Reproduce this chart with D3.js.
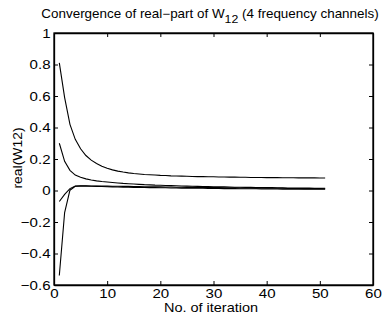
<!DOCTYPE html>
<html>
<head>
<meta charset="utf-8">
<script src="https://cdn.jsdelivr.net/npm/d3@7"></script>
<style>
  body { margin: 0; background: #fff; }
  svg text { font-family: "Liberation Sans", Arial, Helvetica, sans-serif; fill: #000; }
</style>
</head>
<body>
<svg id="chart" width="392" height="322"></svg>
<script>
// iterations 1..51
var iterations = d3.range(1, 52);

// real part of W12 for each of the 4 frequency channels
var channel1 = [0.81,0.59,0.42,0.325,0.265,0.222,0.193,0.171,0.154,0.141,0.131,0.123,0.117,0.112,0.108,0.105,0.102,0.100,0.098,0.096,
	0.095,0.093,0.092,0.091,0.090,0.089,0.088,0.088,0.087,0.087,0.086,0.086,0.085,0.085,0.084,0.084,0.083,0.083,0.083,0.082,
	0.082,0.082,0.081,0.081,0.081,0.080,0.080,0.080,0.080,0.079,0.079];
var channel2 = [0.30,0.185,0.128,0.098,0.084,0.074,0.067,0.061,0.057,0.054,0.051,0.048,0.045,0.043,0.041,0.039,0.037,0.036,0.034,0.033,
	0.032,0.031,0.030,0.029,0.028,0.027,0.026,0.025,0.025,0.024,0.023,0.023,0.022,0.021,0.021,0.020,0.020,0.019,0.019,0.018,
	0.018,0.017,0.017,0.016,0.016,0.015,0.015,0.015,0.014,0.014,0.014];
var channel3 = [-0.07,-0.025,0.012,0.028,0.030,0.030,0.029,0.029,0.028,0.028,0.027,0.027,0.026,0.026,0.025,0.025,0.024,0.024,0.023,0.023,
	0.022,0.022,0.021,0.021,0.020,0.020,0.019,0.019,0.019,0.018,0.018,0.017,0.017,0.017,0.016,0.016,0.016,0.015,0.015,0.015,
	0.014,0.014,0.014,0.013,0.013,0.013,0.012,0.012,0.012,0.012,0.011];
var channel4 = [-0.54,-0.14,0.002,0.027,0.029,0.028,0.027,0.026,0.025,0.024,0.023,0.022,0.021,0.021,0.020,0.019,0.019,0.018,0.018,0.017,
	0.017,0.016,0.016,0.015,0.015,0.014,0.014,0.014,0.013,0.013,0.013,0.012,0.012,0.012,0.011,0.011,0.011,0.011,0.010,0.010,
	0.010,0.010,0.009,0.009,0.009,0.009,0.009,0.008,0.008,0.008,0.008];

var xTicks = [0,10,20,30,40,50,60];
var yTicks = [-0.6,-0.4,-0.2,0,0.2,0.4,0.6,0.8,1];

var margin = {top: 33, right: 19, bottom: 37, left: 54};
var width = 392 - margin.left - margin.right;
var height = 322 - margin.top - margin.bottom;

//matlab export looks horizontally stretched
var stretch = 1.16;

var svg = d3.select("#chart");
var g = svg.append("g").attr("transform", "translate(" + margin.left + "," + margin.top + ")");

var x = d3.scaleLinear().domain([0, 60]).range([0, width]);
var y = d3.scaleLinear().domain([-0.6, 1]).range([height, 0]);

function fmt(d) { return d3.format("")(d).replace("-", "\u2212"); }

//axes, ticks pointing inwards
g.append("g").attr("transform", "translate(0," + height + ")")
	.call(d3.axisBottom(x).tickValues(xTicks).tickSizeInner(-4).tickSizeOuter(0).tickPadding(4).tickFormat(fmt));
g.append("g")
	.call(d3.axisTop(x).tickValues(xTicks).tickSizeInner(-4).tickSizeOuter(0).tickFormat(""));
g.append("g")
	.call(d3.axisLeft(y).tickValues(yTicks).tickSizeInner(-4).tickSizeOuter(0).tickPadding(3).tickFormat(fmt));
g.append("g").attr("transform", "translate(" + width + ",0)")
	.call(d3.axisRight(y).tickValues(yTicks).tickSizeInner(-4).tickSizeOuter(0).tickFormat(""));

g.selectAll(".domain").attr("stroke", "#000").attr("stroke-width", 1.3);
g.selectAll(".tick line").attr("stroke", "#000");
g.selectAll(".tick text").attr("font-size", "13px").attr("font-family", null)
	.attr("transform", "scale(" + stretch + ",1)");

//box
g.append("rect").attr("width", width).attr("height", height)
	.attr("fill", "none").attr("stroke", "#000").attr("stroke-width", 1.3);

//curves
var line = d3.line()
	.x(function(d, i) { return x(iterations[i]); })
	.y(function(d) { return y(d); });

[channel1, channel2, channel3, channel4].forEach(function(ch) {
	g.append("path").datum(ch)
		.attr("fill", "none").attr("stroke", "#000").attr("stroke-width", 1.1)
		.attr("d", line);
});

//labels
var title = svg.append("text")
	.attr("transform", "translate(210,18) scale(1.12,1)")
	.attr("text-anchor", "middle").attr("font-size", "12px");
title.append("tspan").text("Convergence of real\u2212part of W");
title.append("tspan").attr("dy", 5).attr("font-size", "11px").text("12");
title.append("tspan").attr("dy", -5).text(" (4 frequency channels)");

svg.append("text")
	.attr("transform", "translate(211,312) scale(" + stretch + ",1)")
	.attr("text-anchor", "middle").attr("font-size", "12.5px").text("No. of iteration");

svg.append("text")
	.attr("transform", "translate(22,158) rotate(-90) scale(1.07,1)")
	.attr("text-anchor", "middle").attr("font-size", "13px").text("real(W12)");
</script>
</body>
</html>
